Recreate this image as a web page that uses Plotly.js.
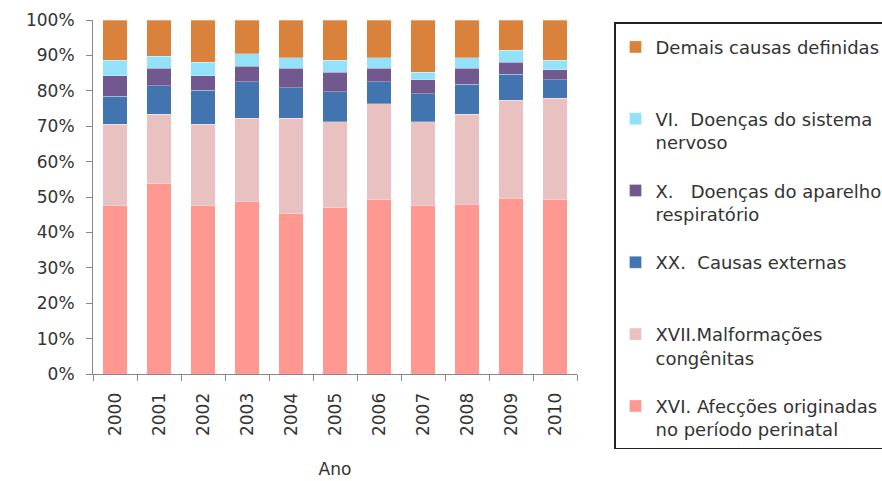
<!DOCTYPE html>
<html>
<head>
<meta charset="utf-8">
<script src="https://cdn.plot.ly/plotly-3.0.1.min.js"></script>
<style>html,body{margin:0;padding:0;background:#fff;}#chart{width:882px;height:481px;}</style>
</head>
<body>
<div id="chart"></div>
<script>
const years = ['2000','2001','2002','2003','2004','2005','2006','2007','2008','2009','2010'];
const perinatal = [47.5, 53.8, 47.5, 48.6, 45.2, 46.9, 49.2, 47.5, 48.0, 49.7, 49.2];
const malformacoes = [23.0, 19.6, 23.1, 23.7, 27.1, 24.3, 27.1, 23.7, 25.4, 27.7, 28.7];
const externas = [8.0, 8.0, 9.6, 10.2, 8.5, 8.5, 6.2, 7.9, 8.5, 7.3, 5.2];
const respiratorio = [5.7, 5.0, 4.0, 4.5, 5.6, 5.6, 3.9, 4.0, 4.5, 3.4, 2.8];
const nervoso = [4.5, 3.4, 3.9, 3.4, 2.9, 3.4, 2.9, 2.2, 2.9, 3.4, 2.8];
const demais = [11.3, 10.2, 11.9, 9.6, 10.7, 11.3, 10.7, 14.7, 10.7, 8.5, 11.3];

const seriesNames = [
  'XVI. Afecções originadas<br>no período perinatal',
  'XVII.Malformações<br>congênitas',
  'XX.  Causas externas<br> ',
  'X.   Doenças do aparelho<br>respiratório',
  'VI.  Doenças do sistema<br>nervoso',
  'Demais causas definidas<br> '
];
const seriesValues = [perinatal, malformacoes, externas, respiratorio, nervoso, demais];
const seriesColors = ['#FF9891', '#E9C1C1', '#4275B0', '#71588E', '#94E1FA', '#DA823C'];

const traces = seriesValues.map((vals, i) => ({
  type: 'bar',
  x: years,
  y: vals.map(v => v / 100),
  name: seriesNames[i],
  legendgroup: 'g' + i,
  legendrank: 1000 - i,
  marker: {color: seriesColors[i], line: {color: 'rgba(255,255,255,0.5)', width: 0.6}},
  hoverinfo: 'x+y+name'
}));

const font = {family: '"DejaVu Sans", Arial, sans-serif', size: 17, color: '#333'};

const layout = {
  width: 882, height: 481,
  margin: {l: 93, r: 305, t: 20, b: 107, autoexpand: false},
  barmode: 'stack',
  bargap: 0.45,
  paper_bgcolor: '#fff',
  plot_bgcolor: '#fff',
  font: font,
  showlegend: true,
  legend: {
    x: (614 - 93) / 484, xref: 'paper', xanchor: 'left',
    y: 1 - (22 - 20) / 354, yanchor: 'top',
    traceorder: 'grouped',
    tracegroupgap: 22,
    valign: 'top',
    maxheight: 481,
    bordercolor: '#222', borderwidth: 1.5,
    bgcolor: '#fff',
    title: {text: ' ', font: {size: 4}},
    font: {family: '"DejaVu Sans", Arial, sans-serif', size: 18, color: '#333'},
    itemwidth: 30
  },
  xaxis: {
    type: 'category',
    tickangle: -90,
    tickson: 'boundaries',
    ticks: 'outside', ticklen: 6, tickcolor: '#888',
    showline: true, linecolor: '#888', linewidth: 1,
    showgrid: false, zeroline: false,
    tickfont: font,
    ticklabelstandoff: 11,
    title: {text: 'Ano', font: font, standoff: 28}
  },
  yaxis: {
    range: [0, 1],
    dtick: 0.1,
    tickformat: '.0%',
    ticks: 'outside', ticklen: 6, tickcolor: '#888',
    showline: true, linecolor: '#888', linewidth: 1,
    showgrid: false, zeroline: false,
    tickfont: font,
    ticklabelstandoff: 8
  }
};

Plotly.newPlot('chart', traces, layout, {displayModeBar: false, staticPlot: true});
</script>
</body>
</html>
